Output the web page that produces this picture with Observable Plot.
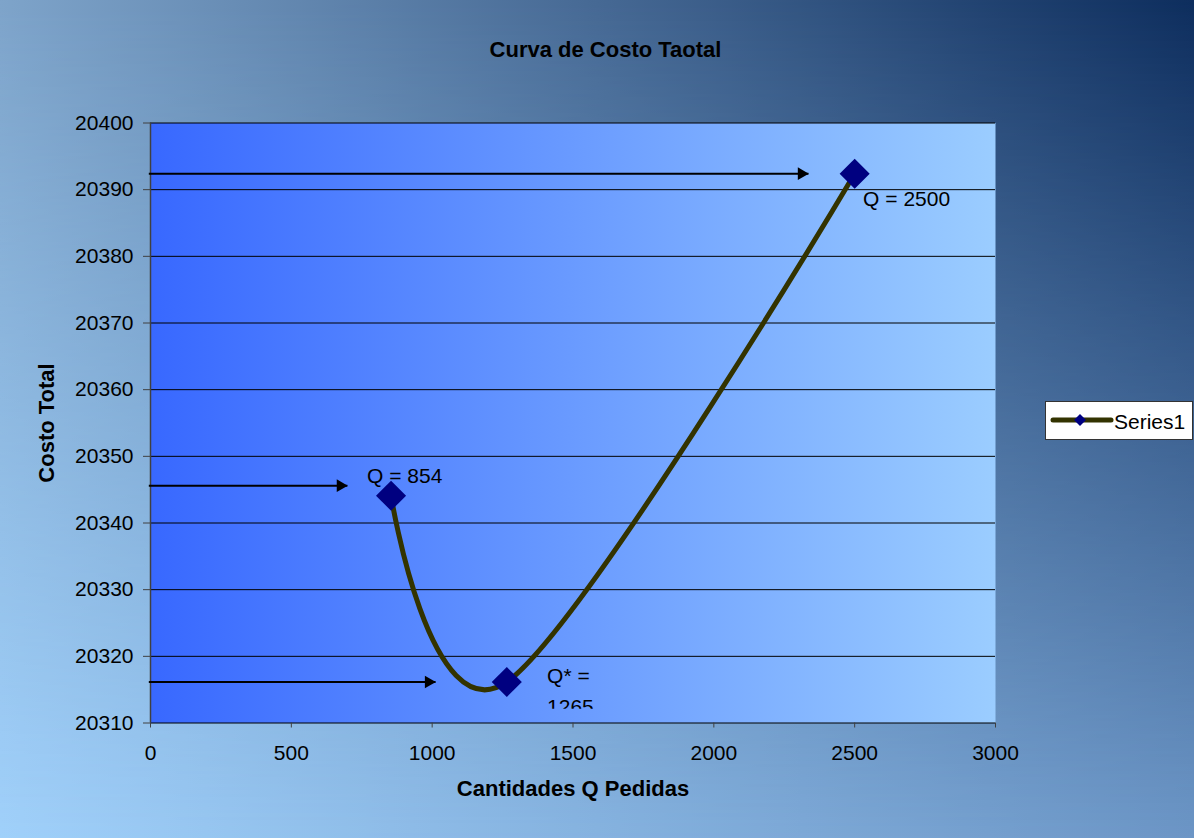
<!DOCTYPE html>
<html>
<head>
<meta charset="utf-8">
<script src="https://cdn.jsdelivr.net/npm/d3@7"></script>
<script src="https://cdn.jsdelivr.net/npm/@observablehq/plot@0.6"></script>
<style>
  html, body { margin: 0; padding: 0; }
  #chart {
    position: relative;
    width: 1194px;
    height: 838px;
    overflow: hidden;
    font-family: "Liberation Sans", Arial, sans-serif;
  }
  .bg { position: absolute; left: 0; top: 0; width: 100%; height: 100%; }
  #bg-top { background: linear-gradient(to right, rgb(126,164,202), rgb(14,46,94)); }
  #bg-bottom {
    background: linear-gradient(to right, rgb(160,208,250), rgb(108,150,198));
    -webkit-mask-image: linear-gradient(to bottom, transparent, black);
    mask-image: linear-gradient(to bottom, transparent, black);
  }
  #plot-holder { position: absolute; left: 0; top: 0; }
  #legend {
    position: absolute;
    left: 1045px;
    top: 401px;
    width: 148px;
    height: 39px;
    box-sizing: border-box;
    background: white;
    border: 1px solid #333;
  }
  g[aria-label="chart title"] text,
  g[aria-label="x title"] text,
  g[aria-label="y title"] text { letter-spacing: 1.1px; }
</style>
</head>
<body>
<div id="chart">
  <div class="bg" id="bg-top"></div>
  <div class="bg" id="bg-bottom"></div>
  <div id="plot-holder"></div>
  <div id="legend">
    <svg width="146" height="37" style="display:block">
      <line x1="7" x2="65" y1="18" y2="18" stroke="#333300" stroke-width="5" stroke-linecap="round"></line>
      <polygon points="34,12 40,18 34,24 28,18" fill="#000080"></polygon>
      <text x="68" y="27" font-family="Liberation Sans, Arial, sans-serif" font-size="21" fill="black">Series1</text>
    </svg>
  </div>
</div>
<script>
// Costo total por cantidad pedida (Q)
const qPedidas = [854, 1265, 2500];
const costoTotal = [20344.1, 20316.15, 20392.4];

// Tick values
const xTicks = [0, 500, 1000, 1500, 2000, 2500, 3000];
const yTicks = [20310, 20320, 20330, 20340, 20350, 20360, 20370, 20380, 20390, 20400];

// Horizontal arrows pointing at each cost level
const arrowCost = [20392.4, 20345.6, 20316.15];
const arrowFrom = [-6, -6, -6];
const arrowTo = [2336, 699, 1012];

// Point annotations
const labelText = ["Q = 854", "Q* =\n1265", "Q = 2500"];
const labelQ = [769, 1408, 2530];
const labelCost = [20349.2, 20319.2, 20390.8];

const chartTitle = "Curva de Costo Taotal";
const xTitle = "Cantidades Q Pedidas";
const yTitle = "Costo Total";

const plot = Plot.plot({
  width: 1194,
  height: 838,
  marginLeft: 150,
  marginRight: 199,
  marginTop: 122.5,
  marginBottom: 115.5,
  x: {domain: [0, 3000]},
  y: {domain: [20310, 20400]},
  style: {
    background: "transparent",
    fontFamily: '"Liberation Sans", Arial, sans-serif',
    fontSize: "21px",
    color: "black",
    overflow: "visible"
  },
  marks: [
    Plot.frame({fill: "url(#plot-area-fill)", stroke: "none"}),
    Plot.ruleY(yTicks, {stroke: "black", strokeWidth: 1}),
    Plot.ruleX([0], {stroke: "#404040", strokeWidth: 1.5}),
    Plot.axisY(yTicks, {tickSize: 7, tickPadding: 10, tickFormat: "d", label: null, stroke: "#404040", fill: "black", fontSize: 21}),
    Plot.axisX(xTicks, {tickSize: 5, tickPadding: 17, tickFormat: "d", label: null, stroke: "#404040", fill: "black", fontSize: 21}),
    Plot.line(qPedidas, {
      x: qPedidas, y: costoTotal, curve: "cardinal",
      stroke: "#333300", strokeWidth: 5, strokeLinejoin: "round", strokeLinecap: "round"
    }),
    Plot.link(arrowCost, {x1: arrowFrom, x2: arrowTo, y1: arrowCost, y2: arrowCost, stroke: "black", strokeWidth: 2}),
    Plot.dot(arrowCost, {x: arrowTo, y: arrowCost, symbol: "triangle", rotate: 90, r: 4.7, fill: "black", stroke: "none", dx: -7}),
    Plot.dot(qPedidas, {x: qPedidas, y: costoTotal, symbol: "square", rotate: 45, r: 12, fill: "#000080", stroke: "none"}),
    Plot.text(labelText, {
      x: labelQ, y: labelCost, text: labelText,
      textAnchor: "start", lineAnchor: "top", lineHeight: 1.45,
      fill: "black", fontSize: 21, ariaLabel: "annotations"
    }),
    Plot.text([chartTitle], {
      text: d => d, frameAnchor: "top", textAnchor: "middle", dx: 32.5, dy: -82,
      fontWeight: "bold", fontSize: 22, fill: "black", ariaLabel: "chart title"
    }),
    Plot.text([xTitle], {
      text: d => d, frameAnchor: "bottom", textAnchor: "middle", dy: 73,
      fontWeight: "bold", fontSize: 22, fill: "black", ariaLabel: "x title"
    }),
    Plot.text([yTitle], {
      text: d => d, frameAnchor: "left", textAnchor: "middle", dx: -103.5, rotate: -90,
      fontWeight: "bold", fontSize: 22, fill: "black", ariaLabel: "y title"
    })
  ]
});

// Plot-area gradient
const svg = d3.select(plot);
const defs = svg.insert("defs", ":first-child");
const grad = defs.append("linearGradient")
  .attr("id", "plot-area-fill")
  .attr("x1", 0).attr("x2", 1).attr("y1", 0).attr("y2", 0);
grad.append("stop").attr("offset", "0%").attr("stop-color", "rgb(56,104,255)");
grad.append("stop").attr("offset", "100%").attr("stop-color", "rgb(155,205,255)");

// The Q* text box is shorter than its two lines, so the second line is cut off.
// The clip rectangle is in the text element's own (translated) coordinates.
defs.append("clipPath").attr("id", "annotation-box")
  .attr("clipPathUnits", "userSpaceOnUse")
  .append("rect").attr("x", -20).attr("y", -40).attr("width", 200).attr("height", 40 + 47);
svg.selectAll("text")
  .filter(function() { return this.textContent.includes("1265"); })
  .attr("clip-path", "url(#annotation-box)");

document.getElementById("plot-holder").appendChild(plot);
</script>
</body>
</html>
